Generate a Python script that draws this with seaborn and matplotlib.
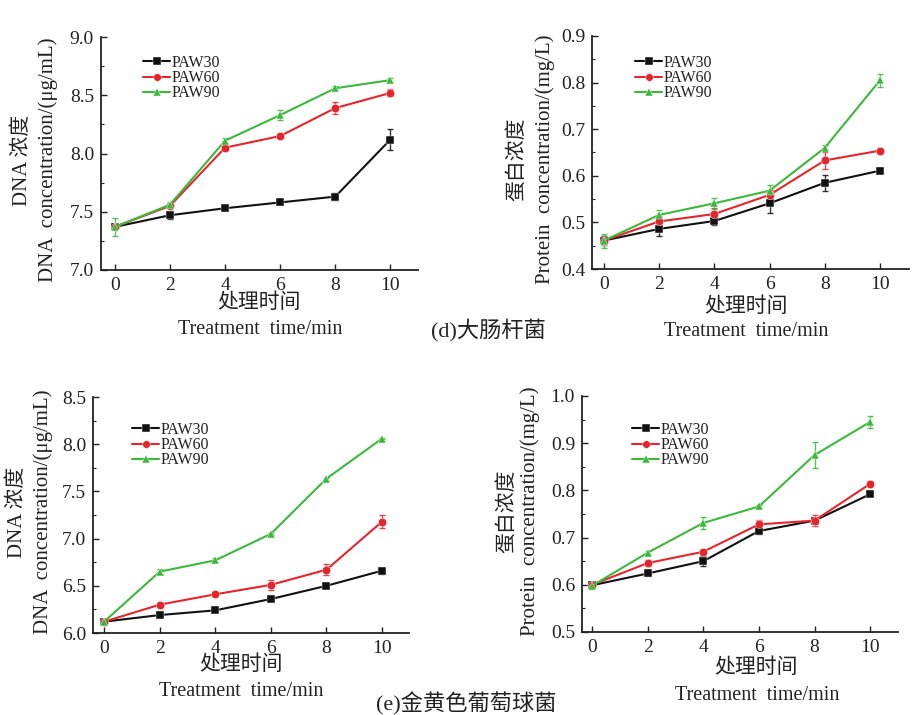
import numpy as np
import pandas as pd
import matplotlib
matplotlib.use("Agg")
import matplotlib.pyplot as plt
import seaborn as sns
from matplotlib.ticker import MultipleLocator

sns.set_theme(style="ticks")
FAM = ['Liberation Serif', 'Noto Sans CJK SC']
plt.rcParams['font.family'] = FAM
plt.rcParams['axes.unicode_minus'] = False

# ---------------- data ----------------
time = [0, 2, 4, 6, 8, 10]
series_names = ["PAW30", "PAW60", "PAW90"]

# (d) E. coli - DNA
ec_dna_30 = [7.37, 7.47, 7.53, 7.58, 7.63, 8.12]
ec_dna_60 = [7.37, 7.55, 8.05, 8.15, 8.39, 8.52]
ec_dna_90 = [7.37, 7.56, 8.11, 8.33, 8.56, 8.63]
ec_dna_e30 = [0.02, 0.03, 0.01, 0.01, 0.03, 0.09]
ec_dna_e60 = [0.02, 0.02, 0.02, 0.02, 0.05, 0.03]
ec_dna_e90 = [0.08, 0.02, 0.02, 0.04, 0.02, 0.02]

# (d) E. coli - protein
ec_pro_30 = [0.461, 0.486, 0.503, 0.541, 0.585, 0.611]
ec_pro_60 = [0.461, 0.502, 0.518, 0.559, 0.633, 0.654]
ec_pro_90 = [0.461, 0.516, 0.541, 0.568, 0.660, 0.805]
ec_pro_e30 = [0.010, 0.016, 0.008, 0.020, 0.017, 0.004]
ec_pro_e60 = [0.008, 0.012, 0.012, 0.010, 0.018, 0.005]
ec_pro_e90 = [0.015, 0.011, 0.012, 0.013, 0.006, 0.014]

# (e) S. aureus - DNA
sa_dna_30 = [6.12, 6.19, 6.24, 6.36, 6.50, 6.66]
sa_dna_60 = [6.12, 6.30, 6.41, 6.51, 6.67, 7.18]
sa_dna_90 = [6.12, 6.65, 6.77, 7.05, 7.635, 8.06]
sa_dna_e30 = [0.01, 0.01, 0.01, 0.01, 0.01, 0.03]
sa_dna_e60 = [0.01, 0.02, 0.02, 0.05, 0.06, 0.07]
sa_dna_e90 = [0.01, 0.03, 0.02, 0.01, 0.01, 0.01]

# (e) S. aureus - protein
sa_pro_30 = [0.599, 0.624, 0.650, 0.714, 0.736, 0.792]
sa_pro_60 = [0.600, 0.646, 0.670, 0.728, 0.736, 0.814]
sa_pro_90 = [0.598, 0.668, 0.731, 0.766, 0.875, 0.945]
sa_pro_e30 = [0.004, 0.005, 0.010, 0.006, 0.004, 0.003]
sa_pro_e60 = [0.004, 0.006, 0.004, 0.010, 0.012, 0.005]
sa_pro_e90 = [0.005, 0.003, 0.013, 0.003, 0.028, 0.013]

dna_label1 = "DNA 浓度"
dna_label2 = "DNA  concentration/(μg/mL)"
pro_label1 = "蛋白浓度"
pro_label2 = "Protein  concentration/(mg/L)"
xlabel_cn = "处理时间"
xlabel_en = "Treatment  time/min"
caption_d = "(d)大肠杆菌"
caption_e = "(e)金黄色葡萄球菌"

colors = {"PAW30": "#111111", "PAW60": "#e3262b", "PAW90": "#3cb83c"}
markers = {"PAW30": "s", "PAW60": "o", "PAW90": "^"}
TXT = "#222222"

W, H = 921, 715
fig = plt.figure(figsize=(W / 100, H / 100), dpi=100)


def ax_at(l, r, t, b):
    return fig.add_axes([l / W, 1 - b / H, (r - l) / W, (b - t) / H])


def ftext(x, y, s, **kw):
    fig.text(x / W, 1 - y / H, s, **kw)


panels = [
    dict(box=(101, 418, 37, 270), xlim=(-0.5, 11.0), ylim=(7.0, 9.0), step=0.5,
         vals=[ec_dna_30, ec_dna_60, ec_dna_90], errs=[ec_dna_e30, ec_dna_e60, ec_dna_e90],
         yl=(dna_label1, dna_label2), ylx=(22, 48), yly=160,
         xl=(259, 303, 260, 330), leg=(143, 55)),
    dict(box=(592, 909, 36, 269), xlim=(-0.43, 11.05), ylim=(0.4, 0.9), step=0.1,
         vals=[ec_pro_30, ec_pro_60, ec_pro_90], errs=[ec_pro_e30, ec_pro_e60, ec_pro_e90],
         yl=(pro_label1, pro_label2), ylx=(517, 545), yly=159,
         xl=(746, 307, 746, 332), leg=(635, 55)),
    dict(box=(93, 409, 397, 633), xlim=(-0.4, 10.97), ylim=(6.0, 8.5), step=0.5,
         vals=[sa_dna_30, sa_dna_60, sa_dna_90], errs=[sa_dna_e30, sa_dna_e60, sa_dna_e90],
         yl=(dna_label1, dna_label2), ylx=(17, 43), yly=512,
         xl=(241, 665, 241, 692), leg=(132, 422)),
    dict(box=(582, 898, 396, 632), xlim=(-0.36, 11.0), ylim=(0.5, 1.0), step=0.1,
         vals=[sa_pro_30, sa_pro_60, sa_pro_90], errs=[sa_pro_e30, sa_pro_e60, sa_pro_e90],
         yl=(pro_label1, pro_label2), ylx=(507, 530), yly=511,
         xl=(756, 668, 757, 695), leg=(632, 422)),
]

for p in panels:
    l, r, t, b = p["box"]
    ax = ax_at(l, r, t, b)
    ax.set_facecolor("white")
    df = pd.concat([pd.DataFrame({"time": time, "value": v, "series": n})
                    for n, v in zip(series_names, p["vals"])], ignore_index=True)
    for n, v, e in zip(series_names, p["vals"], p["errs"]):
        ax.errorbar(time, v, yerr=e, fmt="none", ecolor=colors[n], elinewidth=1.0,
                    capsize=2.2, capthick=1.0, alpha=0.85, zorder=2)
    sns.lineplot(data=df, x="time", y="value", hue="series", style="series",
                 palette=colors, markers=markers, dashes=False, markersize=6,
                 markeredgewidth=0.3, linewidth=1.5, ax=ax, legend=True, zorder=3)
    ax.set_xlim(*p["xlim"])
    ax.set_ylim(*p["ylim"])
    ax.xaxis.set_major_locator(MultipleLocator(2))
    ax.yaxis.set_major_locator(MultipleLocator(p["step"]))
    ax.yaxis.set_minor_locator(MultipleLocator(p["step"] / 2))
    ax.yaxis.set_major_formatter(matplotlib.ticker.FormatStrFormatter("%.1f"))
    ax.tick_params(axis="both", which="major", direction="in", length=4, width=1.0,
                   labelsize=14, pad=5, colors=TXT)
    ax.tick_params(axis="y", which="minor", direction="in", length=2.5, width=0.8)
    for s in ["top", "right"]:
        ax.spines[s].set_visible(False)
    for s in ["left", "bottom"]:
        ax.spines[s].set_linewidth(1.3)
        ax.spines[s].set_color(TXT)
    ax.set_xlabel("")
    ax.set_ylabel("")
    ax.grid(False)
    for lab in ax.get_xticklabels() + ax.get_yticklabels():
        lab.set_family(FAM)

    # legend
    lx, ly = p["leg"]
    bx = (lx - l) / (r - l)
    by = (b - ly) / (b - t)
    leg = ax.legend(loc="upper left", bbox_to_anchor=(bx, by), frameon=False,
                    labelspacing=-0.05, handlelength=1.7, handletextpad=0.1,
                    borderpad=0, borderaxespad=0, title=None,
                    prop={"family": FAM, "size": 11.5})
    for h in leg.legend_handles:
        h.set_markersize(5.5)
    for tx in leg.get_texts():
        tx.set_color(TXT)

    # y labels (two lines)
    y1, y2 = p["yl"]
    ftext(p["ylx"][0], p["yly"], y1, rotation=90, ha="center", va="center", fontsize=15,
          family=FAM, color=TXT)
    ftext(p["ylx"][1], p["yly"], y2, rotation=90, ha="center", va="center", fontsize=15,
          family=FAM, color=TXT)
    # x labels
    cx, cy, ex, ey = p["xl"]
    ftext(cx, cy, xlabel_cn, ha="center", va="center", fontsize=15, family=FAM, color=TXT)
    ftext(ex, ey, xlabel_en, ha="center", va="center", fontsize=14.5, family=FAM, color=TXT)

ftext(488, 330, caption_d, ha="center", va="center", fontsize=16, family=FAM, color=TXT)
ftext(466, 704, caption_e, ha="center", va="center", fontsize=16, family=FAM, color=TXT)

fig.savefig("out.png", dpi=100, facecolor="white")
